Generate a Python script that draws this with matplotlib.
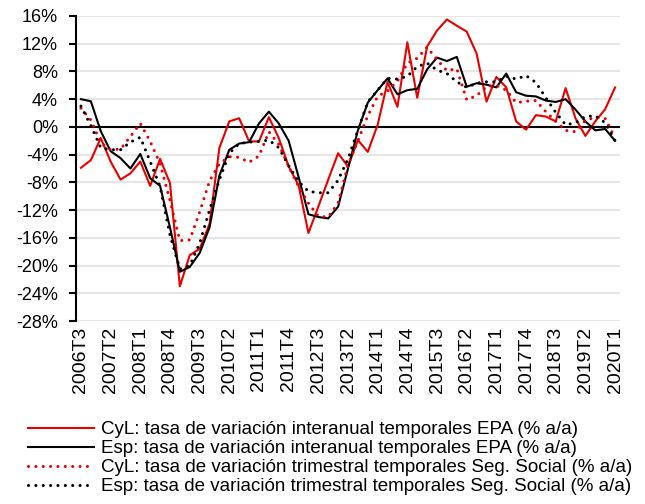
import matplotlib
matplotlib.use('Agg')
import matplotlib.pyplot as plt
from matplotlib.ticker import FuncFormatter

plt.rcParams['font.family'] = ['Liberation Sans', 'DejaVu Sans']

# quarters 2006T3 .. 2020T1
quarters = []
for year in range(2006, 2021):
    for q in range(1, 5):
        if (year == 2006 and q < 3) or (year == 2020 and q > 1):
            continue
        quarters.append(f'{year}T{q}')

cyl_epa = [-5.9, -4.8, -1.6, -5.0, -7.6, -6.7, -5.0, -8.5, -4.6, -8.1,
           -23.0, -18.5, -17.6, -14.0, -3.0, 0.8, 1.25, -2.1, -2.1, 1.4,
           -1.6, -5.7, -8.4, -15.3, -11.5, -7.6, -3.8, -5.7, -1.9, -3.6,
           0.3, 6.5, 2.9, 12.2, 4.2, 11.6, 13.9, 15.5, 14.6, 13.75,
           10.6, 3.65, 7.2, 5.7, 0.8, -0.4, 1.7, 1.5, 0.8, 5.6,
           1.25, -1.3, 0.8, 2.55, 5.7]
esp_epa = [4.0, 3.7, -0.6, -3.5, -4.5, -6.0, -3.9, -7.4, -8.5, -14.5,
           -20.9, -20.2, -18.2, -14.5, -7.0, -3.3, -2.4, -2.2, 0.5, 2.2,
           0.5, -2.0, -7.2, -12.6, -13.0, -13.2, -11.5, -6.0, -0.5, 3.5,
           5.3, 7.0, 4.7, 5.3, 5.5, 8.3, 10.0, 9.5, 10.1, 5.8,
           6.3, 6.1, 5.7, 7.7, 5.0, 4.5, 4.4, 3.8, 3.6, 4.0,
           2.5, 0.8, -0.5, -0.3, -2.0]
cyl_ss = [2.7, 1.0, -2.3, -3.3, -3.2, -1.4, 0.5, -2.1, -5.3, -10.6,
          -16.4, -16.3, -12.3, -7.8, -5.3, -4.3, -4.4, -5.1, -4.2, -0.7,
          -2.5, -5.7, -8.6, -11.0, -12.9, -13.0, -11.0, -5.5, -2.0, 1.6,
          4.4, 5.2, 6.6, 9.2, 9.9, 11.5, 9.7, 8.1, 8.4, 3.9,
          4.5, 5.8, 6.0, 5.3, 3.5, 3.7, 3.8, 2.2, 0.8, -0.5,
          -0.7, 0.9, 1.4, 1.2, -1.6]
esp_ss = [3.0, 0.2, -3.0, -3.3, -3.3, -2.2, -1.5, -5.0, -8.6, -15.6,
          -20.5, -20.0, -16.8, -12.0, -7.6, -3.8, -2.4, -2.2, -2.1, -1.9,
          -3.0, -5.6, -7.9, -9.3, -9.5, -9.5, -7.7, -4.6, -0.5, 3.6,
          5.3, 7.0, 6.9, 7.3, 8.7, 9.2, 8.2, 7.7, 6.5, 5.7,
          6.3, 6.5, 6.5, 7.3, 6.9, 7.4, 6.4, 4.2, 2.1, 0.3,
          0.6, 1.5, 1.6, 0.6, -2.0]

labels = ['CyL: tasa de variación interanual temporales EPA (% a/a)',
          'Esp: tasa de variación interanual temporales EPA (% a/a)',
          'CyL: tasa de variación trimestral temporales Seg. Social (% a/a)',
          'Esp: tasa de variación trimestral temporales Seg. Social (% a/a)']

RED = '#E80000'
dots = (0, (0.01, 2.4))

fig = plt.figure(figsize=(6.45, 5.04), dpi=100)
ax = fig.add_axes([76/645, 1-321/504, 544/645, 305/504])

x = list(range(len(quarters)))
ax.plot(x, cyl_epa, color=RED, lw=1.5, label=labels[0])
ax.plot(x, esp_epa, color='black', lw=1.5, label=labels[1])
ax.plot(x, cyl_ss, color=RED, lw=2.2, linestyle=dots, dash_capstyle='round', label=labels[2])
ax.plot(x, esp_ss, color='black', lw=2.2, linestyle=dots, dash_capstyle='round', label=labels[3])
ax.axhline(0, color='black', lw=1.5, zorder=1)

ax.set_xlim(-0.5, len(quarters) - 0.5)
ax.set_ylim(-28, 16)
ax.set_yticks(range(-28, 17, 4))
ax.yaxis.set_major_formatter(FuncFormatter(lambda v, p: f'{v:.0f}%'))
ax.set_xticks(x[::3])
ax.set_xticklabels(quarters[::3], rotation=90)
ax.yaxis.grid(True, color='#E6E6E6', lw=1.5)
ax.set_axisbelow(True)

for s in ['top', 'right', 'bottom']:
    ax.spines[s].set_visible(False)
ax.spines['left'].set_linewidth(1.5)
ax.tick_params(axis='y', length=5, width=1.5, pad=8, labelsize=13)
ax.tick_params(axis='x', length=0, pad=4, labelsize=14)

fig.legend(loc='upper left', bbox_to_anchor=(28/645, 1-421/504), frameon=False,
           fontsize=13.5, borderpad=0, borderaxespad=0, handlelength=3.5,
           handletextpad=0.4, labelspacing=0.1)

fig.savefig('out.png', dpi=100)
